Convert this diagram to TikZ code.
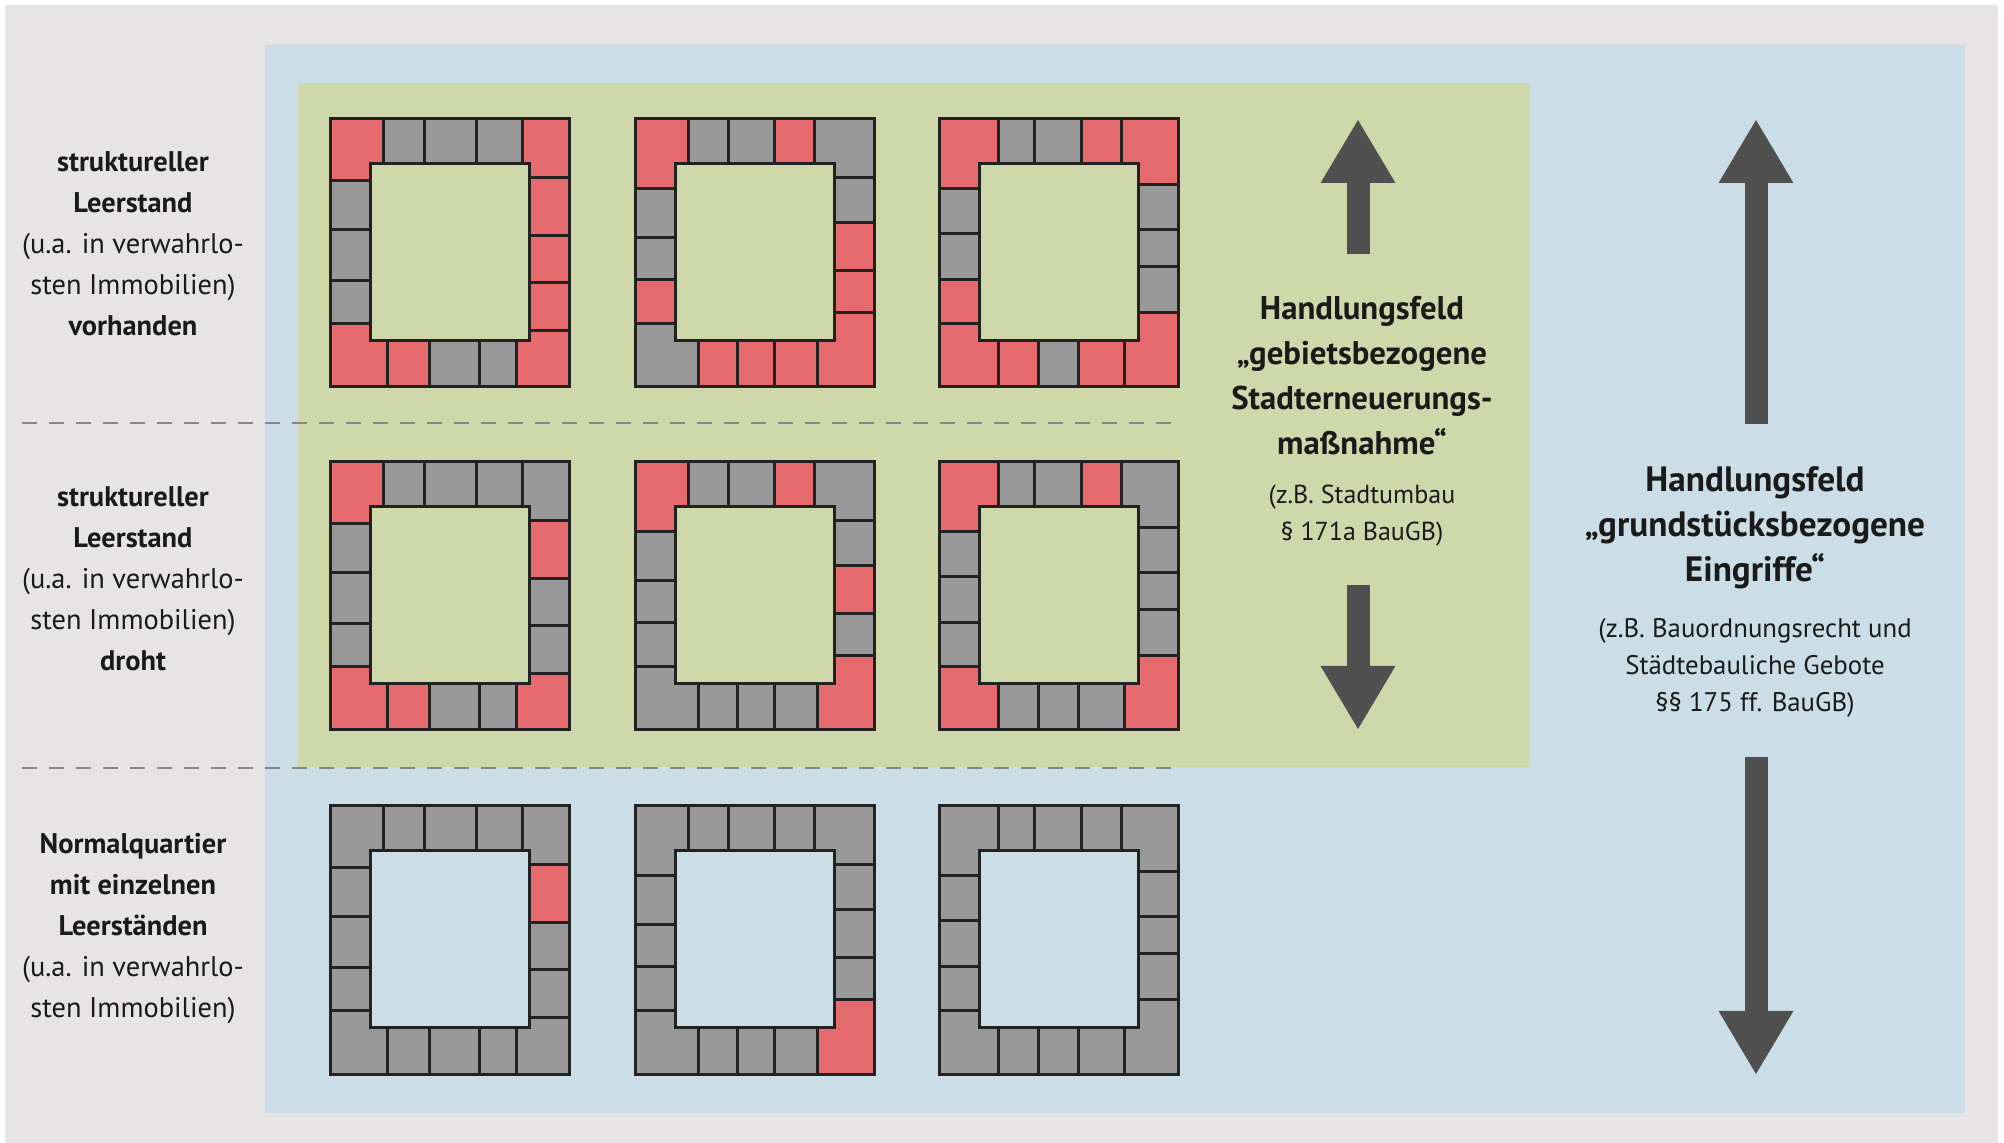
\documentclass[tikz,border=0pt]{standalone}
\usepackage{fontspec}
\setmainfont{PT Sans}
\usetikzlibrary{arrows.meta}
\definecolor{bggrey}{RGB}{230,228,229}
\definecolor{panelblue}{RGB}{203,221,230}
\definecolor{panelgreen}{RGB}{206,216,170}
\definecolor{housered}{RGB}{229,107,110}
\definecolor{housegrey}{RGB}{153,153,153}
\definecolor{lineblack}{RGB}{34,34,34}
\definecolor{arrowgrey}{RGB}{80,80,80}
\definecolor{textblack}{RGB}{26,26,26}
\definecolor{dashgrey}{RGB}{135,135,135}

% cut positions of one column of blocks (top, right, bottom, left)
\def\getfour#1#2,#3,#4,#5;{%
  \expandafter\def\csname q#1A\endcsname{#2}%
  \expandafter\def\csname q#1B\endcsname{#3}%
  \expandafter\def\csname q#1C\endcsname{#4}%
  \expandafter\def\csname q#1D\endcsname{#5}}
\newcommand{\cuts}[4]{\getfour t#1;\getfour r#2;\getfour b#3;\getfour l#4;}

% the 16 cells round the inner yard
\def\cellnone{}
\def\cellTL{(0,0) rectangle (\qtA,45) (0,0) rectangle (40,\qlA)}
\def\cellTa{(\qtA,0) rectangle (\qtB,45)}
\def\cellTb{(\qtB,0) rectangle (\qtC,45)}
\def\cellTc{(\qtC,0) rectangle (\qtD,45)}
\def\cellTR{(\qtD,0) rectangle (239,45) (199,0) rectangle (239,\qrA)}
\def\cellRa{(199,\qrA) rectangle (239,\qrB)}
\def\cellRb{(199,\qrB) rectangle (239,\qrC)}
\def\cellRc{(199,\qrC) rectangle (239,\qrD)}
\def\cellBR{(199,\qrD) rectangle (239,268) (\qbD,222) rectangle (239,268)}
\def\cellBa{(\qbA,222) rectangle (\qbB,268)}
\def\cellBb{(\qbB,222) rectangle (\qbC,268)}
\def\cellBc{(\qbC,222) rectangle (\qbD,268)}
\def\cellBL{(0,\qlD) rectangle (40,268) (0,222) rectangle (\qbA,268)}
\def\cellLa{(0,\qlA) rectangle (40,\qlB)}
\def\cellLb{(0,\qlB) rectangle (40,\qlC)}
\def\cellLc{(0,\qlC) rectangle (40,\qlD)}

\tikzset{
    cellgrey/.style={fill=housegrey},
    cellred/.style={fill=housered},
    cellline/.style={draw=lineblack, line width=1.5pt},
    divider/.style={draw=dashgrey, line width=1pt, dash pattern=on 7.5pt off 6pt},
    rowlabel/.style={align=center, text=textblack, font=\fontsize{14.2}{20.5}\selectfont},
    fieldhead/.style={align=center, text=textblack, font=\fontsize{#1}{22.5}\selectfont\bfseries},
    fieldnote/.style={align=center, text=textblack, font=\fontsize{#1}{18.5}\selectfont},
    bigarrow/.style={draw=arrowgrey, line width=11.5pt,
                     -{Triangle[width=35pt, length=32pt, fill=arrowgrey]}},
}

% #1 name, #2 x, #3 y, #4 yard colour, #5 red cells
\newcommand{\quartier}[5]{%
  \begin{scope}[shift={(#2,#3)}]
    \fill[cellgrey] (0,0) rectangle (239,268);
    \foreach \cel in {#5}{%
      \expandafter\let\expandafter\cellpath\csname cell\cel\endcsname
      \fill[cellred] \cellpath;}
    \foreach \v in {\qtA,\qtB,\qtC,\qtD} \draw[cellline] (\v,0) -- (\v,45);
    \foreach \v in {\qbA,\qbB,\qbC,\qbD} \draw[cellline] (\v,222) -- (\v,268);
    \foreach \v in {\qlA,\qlB,\qlC,\qlD} \draw[cellline] (0,\v) -- (40,\v);
    \foreach \v in {\qrA,\qrB,\qrC,\qrD} \draw[cellline] (199,\v) -- (239,\v);
    \draw[cellline, fill=#4] (40,45) rectangle (199,222);
    \draw[cellline] (0,0) rectangle (239,268);
    \coordinate (#1) at (119.5,134);
  \end{scope}}

\begin{document}
\begin{tikzpicture}[x=0.5pt, y=-0.5pt]
    \useasboundingbox (0,0) rectangle (2004,1143);
    \fill[white] (0,0) rectangle (2004,1143);
    \fill[bggrey] (5,5) rectangle (1998,1143);
    \fill[panelblue] (265,45) rectangle (1965,1113);
    \fill[panelgreen] (298,83) rectangle (1530,767);

    % row separators
    \coordinate (sepAl) at (22,423);  \coordinate (sepAr) at (1178,423);
    \coordinate (sepBl) at (22,768);  \coordinate (sepBr) at (1178,768);
    \draw[divider] (sepAl) -- (sepAr);
    \draw[divider] (sepBl) -- (sepBr);

    % left column of blocks
    \cuts{53,94,146,192}{59,117,164,212}{57,99,149,186}{62,111,162,205}
    \quartier{q11}{330}{119}{panelgreen}{TL,TR,Ra,Rb,Rc,BR,Ba,BL}
    \quartier{q21}{330}{462}{panelgreen}{TL,Ra,BR,Ba,BL}
    \quartier{q31}{330}{806}{panelblue}{Ra}

    % middle column
    \cuts{53,93,139,179}{59,104,152,194}{63,102,139,182}{70,119,161,205}
    \quartier{q12}{635}{119}{panelgreen}{TL,Tc,Rb,Rc,BR,Ba,Bb,Bc,Lc}
    \quartier{q22}{635}{462}{panelgreen}{TL,Tc,Rb,BR}
    \quartier{q32}{635}{806}{panelblue}{BR}

    % right column
    \cuts{59,95,142,182}{66,111,148,194}{59,99,139,185}{70,115,161,205}
    \quartier{q13}{939}{119}{panelgreen}{TL,Tc,TR,BR,Ba,Bc,BL,Lc}
    \quartier{q23}{939}{462}{panelgreen}{TL,Tc,BR,BL}
    \quartier{q33}{939}{806}{panelblue}{none}

    % row labels
    \node[rowlabel] (rowA) at (133,244) {\textbf{struktureller}\\\textbf{Leerstand}\\(u.a. in verwahrlo-\\sten Immobilien)\\\textbf{vorhanden}};
    \node[rowlabel] (rowB) at (133,579) {\textbf{struktureller}\\\textbf{Leerstand}\\(u.a. in verwahrlo-\\sten Immobilien)\\\textbf{droht}};
    \node[rowlabel] (rowC) at (133,929) {\textbf{Normalquartier}\\\textbf{mit einzelnen}\\\textbf{Leerständen}\\(u.a. in verwahrlo-\\sten Immobilien)};

    % area field
    \node[fieldhead=16.4] (areahead) at (1362,376) {Handlungsfeld\\„gebietsbezogene\\Stadterneuerungs-\\maßnahme“};
    \node[fieldnote=13] (areanote) at (1362,516) {(z.B. Stadtumbau\\§ 171a BauGB)};
    \coordinate (areaUp0) at (1358,254);  \coordinate (areaUp1) at (1358,119);
    \coordinate (areaDn0) at (1358,585);  \coordinate (areaDn1) at (1358,730);
    \draw[bigarrow] (areaUp0) -- (areaUp1);
    \draw[bigarrow] (areaDn0) -- (areaDn1);

    % plot field
    \node[fieldhead=17.6] (plothead) at (1755,528) {Handlungsfeld\\„grundstücksbezogene\\Eingriffe“};
    \node[fieldnote=13.4] (plotnote) at (1755,668) {(z.B. Bauordnungsrecht und\\Städtebauliche Gebote\\§§ 175 ff. BauGB)};
    \coordinate (plotUp0) at (1756,424);  \coordinate (plotUp1) at (1756,119);
    \coordinate (plotDn0) at (1756,757);  \coordinate (plotDn1) at (1756,1075);
    \draw[bigarrow] (plotUp0) -- (plotUp1);
    \draw[bigarrow] (plotDn0) -- (plotDn1);
\end{tikzpicture}
\end{document}
